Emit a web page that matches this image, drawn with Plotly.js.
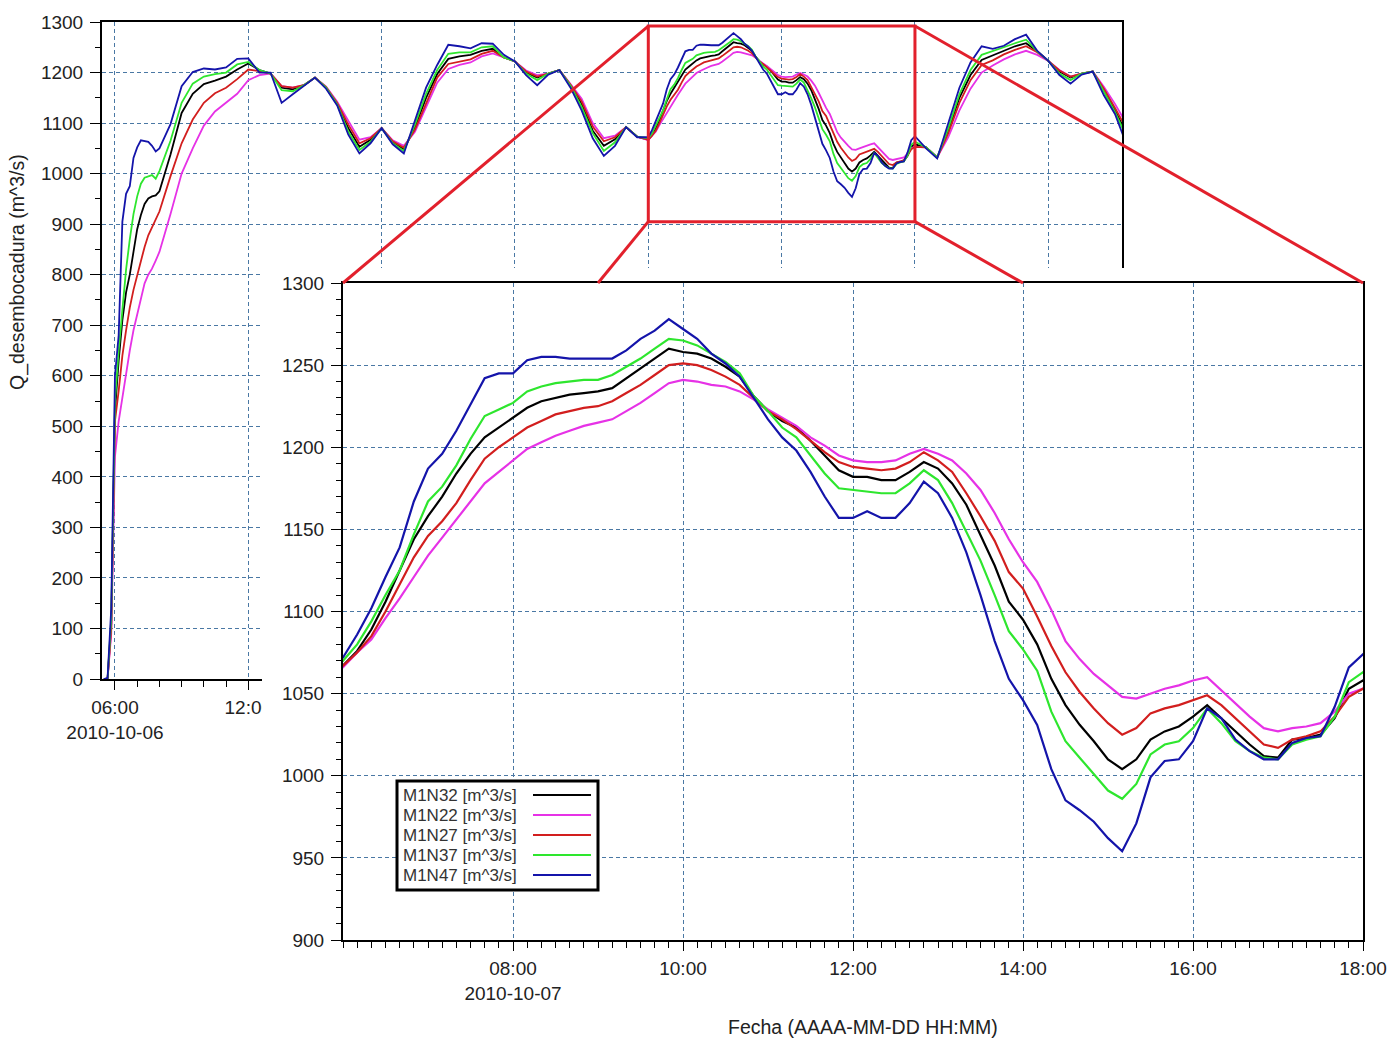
<!DOCTYPE html>
<html>
<head>
<meta charset="utf-8">
<script src="https://cdn.plot.ly/plotly-3.0.1.min.js"></script>
<style>
html,body{margin:0;padding:0;background:#fff;}
#chart{width:1388px;height:1039px;}
</style>
</head>
<body>
<div id="chart"></div>
<script>
// ---------- time grid (segments: start, end, step in minutes) ----------
const timeSegments = [
  ['2010-10-06T05:30', '2010-10-06T08:00', 10],
  ['2010-10-06T08:30', '2010-10-07T05:30', 30],
  ['2010-10-07T06:00', '2010-10-07T18:00', 10],
  ['2010-10-07T18:30', '2010-10-08T03:30', 30]
];

// ---------- series (m^3/s), one value per time step ----------
const seriesNames = ['M1N32 [m^3/s]', 'M1N22 [m^3/s]', 'M1N27 [m^3/s]', 'M1N37 [m^3/s]', 'M1N47 [m^3/s]'];
const seriesColors = ['#000000', '#e632e6', '#d21e1e', '#2ee62e', '#1414aa'];

const m1n32 = [
  0, 0, 110, 530, 630, 710, 765, 800, 845, 890, 918, 940, 951, 955, 957, 965,
  1038, 1120, 1158, 1177, 1184, 1192, 1206, 1218, 1205, 1198, 1170, 1167, 1175, 1190, 1170, 1138, 1090, 1053, 1067, 1090, 1062, 1048, 1092, 1150, 1197, 1227, 1232, 1235, 1243, 1247, 1230, 1222, 1200, 1190, 1198, 1205, 1175, 1138, 1085, 1055, 1068, 1092, 1073,
  1067, 1076, 1089, 1106, 1125, 1144, 1158, 1170, 1184, 1196, 1206, 1212, 1218, 1224, 1228, 1230, 1232, 1233, 1234, 1236, 1242, 1248, 1254, 1260, 1258, 1257, 1254, 1249, 1243, 1231, 1222, 1216, 1212, 1204, 1195, 1186, 1182, 1182, 1180, 1180, 1185, 1191, 1187, 1178, 1165, 1147, 1128, 1106, 1095, 1080, 1059, 1043, 1031, 1021, 1010, 1004, 1010, 1022, 1027, 1030, 1036, 1043, 1035, 1027, 1019, 1012, 1011, 1022, 1023, 1025, 1035, 1053, 1058,
  1052, 1032, 1085, 1150, 1195, 1225, 1234, 1244, 1252, 1258, 1242, 1223, 1202, 1190, 1198, 1202, 1165, 1125, 1082
];
const m1n22 = [
  0, 0, 90, 440, 510, 560, 610, 650, 690, 722, 755, 783, 800, 812, 828, 845,
  920, 1000, 1050, 1095, 1123, 1140, 1158, 1185, 1195, 1198, 1173, 1170, 1175, 1190, 1172, 1142, 1103, 1067, 1072, 1090, 1066, 1055, 1083, 1130, 1180, 1207, 1215, 1220, 1232, 1238, 1230, 1222, 1204, 1195, 1198, 1205, 1177, 1148, 1100, 1070, 1075, 1092, 1073,
  1066, 1075, 1083, 1096, 1108, 1121, 1134, 1145, 1156, 1167, 1178, 1185, 1192, 1199, 1203, 1207, 1210, 1213, 1215, 1217, 1222, 1227, 1233, 1239, 1241, 1240, 1238, 1237, 1234, 1229, 1223, 1218, 1213, 1206, 1201, 1195, 1192, 1191, 1191, 1192, 1196, 1199, 1196, 1192, 1184, 1174, 1160, 1144, 1130, 1118, 1101, 1082, 1071, 1062, 1055, 1048, 1047, 1050, 1053, 1055, 1058, 1060, 1052, 1044, 1036, 1029, 1027, 1029, 1030, 1032, 1039, 1050, 1053,
  1052, 1032, 1072, 1125, 1168, 1200, 1214, 1226, 1236, 1243, 1235, 1223, 1205, 1192, 1198, 1202, 1172, 1138, 1100
];
const m1n27 = [
  0, 0, 100, 510, 570, 640, 690, 735, 770, 800, 828, 855, 878, 893, 910, 925,
  995, 1060, 1107, 1140, 1159, 1170, 1187, 1206, 1203, 1198, 1173, 1170, 1175, 1190, 1171, 1140, 1097, 1060, 1070, 1090, 1064, 1051, 1087, 1140, 1190, 1217, 1222, 1226, 1237, 1243, 1230, 1222, 1202, 1192, 1198, 1205, 1176, 1143, 1093, 1064, 1072, 1092, 1073,
  1067, 1075, 1085, 1100, 1117, 1133, 1146, 1155, 1166, 1180, 1193, 1200, 1206, 1212, 1216, 1220, 1222, 1224, 1225, 1228, 1233, 1238, 1244, 1250, 1251, 1250, 1247, 1243, 1238, 1230, 1222, 1217, 1211, 1204, 1197, 1191, 1188, 1187, 1186, 1187, 1191, 1197, 1192, 1185, 1172, 1158, 1143, 1124, 1114, 1097, 1079, 1063, 1051, 1041, 1032, 1025, 1029, 1038, 1041, 1043, 1046, 1049, 1043, 1035, 1027, 1019, 1017, 1022, 1024, 1027, 1036, 1048, 1053,
  1052, 1032, 1080, 1140, 1185, 1215, 1224, 1236, 1245, 1252, 1240, 1223, 1204, 1192, 1198, 1202, 1168, 1130, 1090
];
const m1n37 = [
  0, 0, 120, 550, 650, 735, 810, 870, 920, 955, 980, 992, 995, 997, 990, 1005,
  1065, 1140, 1178, 1192, 1197, 1200, 1216, 1221, 1205, 1198, 1165, 1163, 1175, 1190, 1170, 1137, 1083, 1047, 1063, 1090, 1060, 1045, 1097, 1158, 1205, 1237, 1240, 1240, 1250, 1252, 1230, 1222, 1198, 1185, 1198, 1205, 1174, 1132, 1080, 1045, 1062, 1092, 1073,
  1070, 1080, 1094, 1110, 1125, 1147, 1167, 1176, 1189, 1205, 1219, 1223, 1227, 1234, 1237, 1239, 1240, 1241, 1241, 1244, 1249, 1254, 1260, 1266, 1265, 1262, 1257, 1252, 1245, 1231, 1222, 1212, 1206, 1195, 1184, 1175, 1174, 1173, 1172, 1172, 1178, 1186, 1180, 1166, 1149, 1131, 1110, 1088, 1077, 1064, 1039, 1021, 1011, 1001, 991, 986, 995, 1013, 1019, 1021, 1029, 1041, 1032, 1021, 1015, 1011, 1010, 1019, 1022, 1024, 1036, 1057, 1063,
  1052, 1032, 1090, 1157, 1205, 1235, 1242, 1250, 1258, 1265, 1242, 1223, 1198, 1185, 1198, 1202, 1162, 1122, 1075
];
const m1n47 = [
  0, 2, 140, 600, 680, 905, 960, 975, 1031, 1052, 1066, 1064, 1063, 1055, 1044, 1050,
  1098, 1173, 1201, 1208, 1206, 1210, 1227, 1228, 1200, 1200, 1140, 1157, 1173, 1190, 1168, 1135, 1077, 1040, 1060, 1090, 1058, 1040, 1105, 1170, 1215, 1255, 1252, 1248, 1258, 1257, 1235, 1222, 1195, 1175, 1196, 1205, 1170, 1125, 1070, 1035, 1055, 1092, 1072,
  1072, 1086, 1102, 1121, 1139, 1167, 1187, 1196, 1210, 1226, 1242, 1245, 1245, 1253, 1255, 1255, 1254, 1254, 1254, 1254, 1259, 1266, 1271, 1278, 1272, 1266, 1257, 1251, 1243, 1230, 1217, 1206, 1198, 1185, 1170, 1157, 1157, 1161, 1157, 1157, 1166, 1179, 1172, 1157, 1136, 1110, 1082, 1059, 1046, 1031, 1004, 985, 979, 972, 962, 954, 971, 999, 1009, 1010, 1021, 1041, 1035, 1022, 1015, 1010, 1010, 1020, 1023, 1024, 1042, 1066, 1074,
  1050, 1030, 1100, 1170, 1220, 1252, 1247, 1253, 1266, 1275, 1243, 1223, 1195, 1178, 1196, 1202, 1155, 1118, 1060
];
const seriesValues = [m1n32, m1n22, m1n27, m1n37, m1n47];

// ---------- tick labels ----------
const mainTickVals = ['2010-10-06 06:00', '2010-10-06 12:00', '2010-10-06 18:00', '2010-10-07 00:00', '2010-10-07 06:00', '2010-10-07 12:00', '2010-10-07 18:00', '2010-10-08 00:00'];
const mainTickText = ['06:00<br>2010-10-06', '12:00', '18:00', '00:00<br>2010-10-07', '06:00', '12:00', '18:00', '00:00<br>2010-10-08'];
const insetTickVals = ['2010-10-07 08:00', '2010-10-07 10:00', '2010-10-07 12:00', '2010-10-07 14:00', '2010-10-07 16:00', '2010-10-07 18:00'];
const insetTickText = ['08:00<br>2010-10-07', '10:00', '12:00', '14:00', '16:00', '18:00'];

// ---------- helpers ----------
function pad(n) { return String(n).padStart(2, '0'); }
function fmt(t) {
  const d = new Date(t);
  return d.getUTCFullYear() + '-' + pad(d.getUTCMonth() + 1) + '-' + pad(d.getUTCDate()) + ' ' + pad(d.getUTCHours()) + ':' + pad(d.getUTCMinutes());
}
function buildTimes(segs) {
  const out = [];
  segs.forEach(function (s) {
    const end = Date.parse(s[1] + ':00Z');
    for (let t = Date.parse(s[0] + ':00Z'); t <= end; t += s[2] * 60000) out.push(fmt(t));
  });
  return out;
}
const times = buildTimes(timeSegments);
const ms = function (s) { return Date.parse(s.replace(' ', 'T') + ':00Z'); };

// ---------- geometry ----------
const W = 1388, H = 1039;
const px = function (v) { return v / W; };
const py = function (v) { return 1 - v / H; };
const FONT = 'Liberation Sans, Arial, sans-serif';
const TXT = '#222222';

const mainX = { domain: [px(102), px(1122)], range: ['2010-10-06 05:25', '2010-10-08 03:19'] };
const mainY = { domain: [py(679), py(22)], range: [0, 1300] };
const insX = { domain: [px(343), px(1363)], range: ['2010-10-07 06:00', '2010-10-07 18:00'] };
const insY = { domain: [py(940), py(283)], range: [900, 1300] };

function dateToPaper(ax, t) {
  const r0 = ms(ax.range[0]), r1 = ms(ax.range[1]);
  return ax.domain[0] + (ms(t) - r0) / (r1 - r0) * (ax.domain[1] - ax.domain[0]);
}
function valToPaper(ax, v) {
  return ax.domain[0] + (v - ax.range[0]) / (ax.range[1] - ax.range[0]) * (ax.domain[1] - ax.domain[0]);
}

const grid = { showgrid: true, gridcolor: '#4a78a4', gridwidth: 1, griddash: '4px,3px' };
const frame = { showline: true, linecolor: '#000', linewidth: 2, mirror: true, zeroline: false };
const tfont = { family: FONT, size: 19, color: TXT };

// ---------- traces ----------
const traces = [];
seriesValues.forEach(function (vals, i) {
  traces.push({ type: 'scatter', mode: 'lines', x: times, y: vals, xaxis: 'x', yaxis: 'y',
    name: seriesNames[i], line: { color: seriesColors[i], width: 1.8 }, showlegend: false, hoverinfo: 'skip' });
});
// white cover subplot (hides the part of the main chart behind the inset)
traces.push({ type: 'scatter', mode: 'lines', x: [], y: [], xaxis: 'x2', yaxis: 'y2', showlegend: false, hoverinfo: 'skip' });
seriesValues.forEach(function (vals, i) {
  traces.push({ type: 'scatter', mode: 'lines', x: times, y: vals, xaxis: 'x3', yaxis: 'y3',
    name: seriesNames[i], line: { color: seriesColors[i], width: 2.2 }, showlegend: false, hoverinfo: 'skip' });
});

// ---------- shapes ----------
const RED = '#e2202c';
const boxX0 = '2010-10-07 06:00', boxX1 = '2010-10-07 18:00', boxY0 = 905, boxY1 = 1292;
const shapes = [
  { type: 'rect', xref: 'x', yref: 'y', x0: boxX0, x1: boxX1, y0: boxY0, y1: boxY1, line: { color: RED, width: 3 }, layer: 'above' },
  { type: 'line', xref: 'paper', yref: 'paper', x0: dateToPaper(mainX, boxX0), y0: valToPaper(mainY, boxY1), x1: insX.domain[0], y1: insY.domain[1], line: { color: RED, width: 3 }, layer: 'above' },
  { type: 'line', xref: 'paper', yref: 'paper', x0: dateToPaper(mainX, boxX1), y0: valToPaper(mainY, boxY1), x1: insX.domain[1], y1: insY.domain[1], line: { color: RED, width: 3 }, layer: 'above' },
  { type: 'line', xref: 'paper', yref: 'paper', x0: dateToPaper(mainX, boxX0), y0: valToPaper(mainY, boxY0), x1: dateToPaper(insX, '2010-10-07 09:00'), y1: insY.domain[1], line: { color: RED, width: 3 }, layer: 'above' },
  { type: 'line', xref: 'paper', yref: 'paper', x0: dateToPaper(mainX, boxX1), y0: valToPaper(mainY, boxY0), x1: dateToPaper(insX, '2010-10-07 14:00'), y1: insY.domain[1], line: { color: RED, width: 3 }, layer: 'above' },
  // legend box
  { type: 'rect', xref: 'paper', yref: 'paper', x0: px(397), x1: px(598), y0: py(890), y1: py(781), fillcolor: '#ffffff', line: { color: '#000', width: 3 }, layer: 'above' }
];
const annotations = [
  { xref: 'paper', yref: 'paper', x: px(18), y: py(272), text: 'Q_desembocadura (m^3/s)', textangle: -90, showarrow: false, xanchor: 'center', yanchor: 'middle', font: { family: FONT, size: 19.5, color: TXT } },
  { xref: 'paper', yref: 'paper', x: px(863), y: py(1027), text: 'Fecha (AAAA-MM-DD HH:MM)', showarrow: false, xanchor: 'center', yanchor: 'middle', font: { family: FONT, size: 19.5, color: TXT } }
];
seriesNames.forEach(function (nm, i) {
  const yy = 795 + 20 * i;
  shapes.push({ type: 'line', xref: 'paper', yref: 'paper', x0: px(533), x1: px(591), y0: py(yy), y1: py(yy), line: { color: seriesColors[i], width: 2 }, layer: 'above' });
  annotations.push({ xref: 'paper', yref: 'paper', x: px(401), y: py(yy), text: nm, showarrow: false, xanchor: 'left', yanchor: 'middle', font: { family: FONT, size: 17, color: '#333' } });
});

const layout = {
  width: W, height: H, margin: { l: 0, r: 0, t: 0, b: 0 },
  paper_bgcolor: '#ffffff', plot_bgcolor: '#ffffff', showlegend: false, hovermode: false,
  font: { family: FONT, size: 19, color: TXT },
  xaxis: Object.assign({ type: 'date', anchor: 'y', domain: mainX.domain, range: mainX.range,
    tickmode: 'array', tickvals: mainTickVals, ticktext: mainTickText,
    ticks: 'outside', ticklen: 9, tickwidth: 1, tickcolor: '#000', tickfont: tfont, ticklabelstandoff: 1,
    minor: { tickmode: 'linear', tick0: '2010-10-06 06:00', dtick: 3600000, ticks: 'outside', ticklen: 6, tickcolor: '#000', showgrid: false }
  }, grid, frame),
  yaxis: Object.assign({ anchor: 'x', domain: mainY.domain, range: mainY.range, tick0: 0, dtick: 100,
    ticks: 'outside', ticklen: 10, tickwidth: 1, tickcolor: '#000', tickfont: tfont, ticklabelstandoff: 3,
    minor: { tick0: 0, dtick: 50, ticks: 'outside', ticklen: 5, tickcolor: '#000', showgrid: false }
  }, grid, frame),
  xaxis2: { anchor: 'y2', domain: [px(262), 1], range: [0, 1], showgrid: false, showline: false, zeroline: false, showticklabels: false, ticks: '' },
  yaxis2: { anchor: 'x2', domain: [0, py(268)], range: [0, 1], showgrid: false, showline: false, zeroline: false, showticklabels: false, ticks: '' },
  xaxis3: Object.assign({ type: 'date', anchor: 'y3', domain: insX.domain, range: insX.range,
    tickmode: 'array', tickvals: insetTickVals, ticktext: insetTickText,
    ticks: 'outside', ticklen: 9, tickwidth: 1, tickcolor: '#000', tickfont: tfont, ticklabelstandoff: 1,
    minor: { tickmode: 'linear', tick0: '2010-10-07 06:00', dtick: 600000, ticks: 'outside', ticklen: 6, tickcolor: '#000', showgrid: false }
  }, grid, frame),
  yaxis3: Object.assign({ anchor: 'x3', domain: insY.domain, range: insY.range, tick0: 900, dtick: 50,
    ticks: 'outside', ticklen: 10, tickwidth: 1, tickcolor: '#000', tickfont: tfont, ticklabelstandoff: 3,
    minor: { tick0: 900, dtick: 10, ticks: 'outside', ticklen: 5, tickcolor: '#000', showgrid: false }
  }, grid, frame),
  shapes: shapes,
  annotations: annotations
};

Plotly.newPlot('chart', traces, layout, { displayModeBar: false, staticPlot: true });
</script>
</body>
</html>
